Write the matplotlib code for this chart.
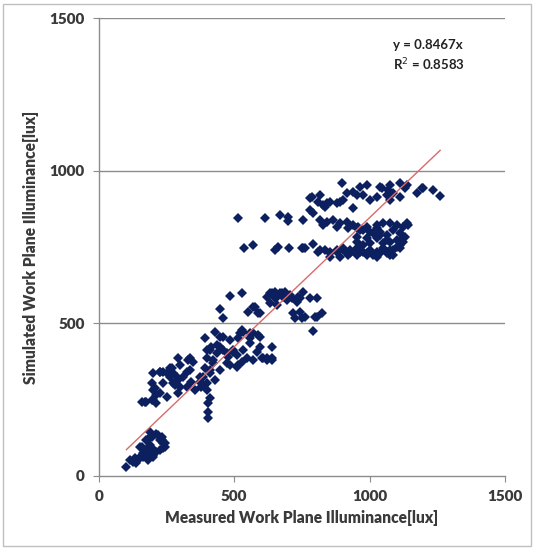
import numpy as np
import matplotlib
matplotlib.use('Agg')
import matplotlib.pyplot as plt
from matplotlib.patches import Rectangle

# values, grouped by cluster
low_x = [102, 115, 133, 151, 164, 176, 158, 188, 176, 195, 213, 225, 238, 244, 225, 201, 182, 139,
         188, 232, 127, 145, 164, 170, 151, 182, 195, 188, 219, 232, 244, 238, 213, 201]
low_y = [30, 52, 58, 63, 74, 85, 94, 102, 118, 129, 138, 118, 107, 94, 85, 69, 52, 42,
         145, 127, 47, 52, 63, 80, 96, 74, 91, 129, 134, 118, 107, 91, 80, 63]

mid_low_x = [158, 176, 201, 213, 207, 195, 201, 225, 250, 269, 262, 275, 293, 299, 293, 312, 330, 336,
             355, 385, 373, 392, 410, 422, 398, 435, 293, 336, 348, 299, 262, 225, 275, 324, 238,
             281, 201, 225, 170, 195, 213, 250, 324, 342, 373, 238, 287, 404, 404, 404, 410, 398,
             379, 398, 385, 410, 429]
mid_low_y = [243, 243, 249, 265, 287, 304, 336, 342, 336, 353, 325, 304, 314, 293, 271, 325, 380, 347,
             282, 298, 325, 353, 347, 380, 386, 402, 386, 386, 374, 364, 353, 342, 336, 342, 304,
             298, 282, 271, 243, 249, 238, 260, 293, 309, 309, 342, 325, 238, 211, 189, 255, 282,
             293, 304, 325, 336, 314]

mid_x = [392, 429, 459, 484, 515, 533, 570, 595, 558, 533, 496, 459, 435, 478, 509, 546, 570, 607,
         638, 638, 595, 472, 515, 398, 447, 472, 496, 527, 558, 589, 410, 447, 583, 601, 620,
         638, 484, 509, 527, 447, 422, 416, 521, 558, 620]
mid_y = [451, 473, 456, 445, 451, 473, 467, 456, 435, 413, 413, 413, 429, 391, 396, 386, 380, 386,
         380, 424, 424, 369, 364, 413, 424, 402, 407, 478, 467, 462, 413, 456, 407, 386, 380,
         386, 364, 358, 374, 347, 369, 424, 467, 451, 386]

upper_mid_x = [527, 447, 459, 552, 570, 589, 595, 620, 638, 657, 675, 694, 694, 712, 730, 743, 755,
               780, 804, 718, 743, 724, 749, 798, 823, 792, 632, 650, 669, 687, 706, 736, 650,
               681, 761, 804, 576, 632, 657, 484]
upper_mid_y = [599, 546, 517, 538, 555, 533, 533, 587, 599, 587, 599, 593, 577, 582, 571, 582, 604,
               582, 582, 533, 538, 517, 517, 522, 533, 476, 599, 604, 599, 604, 593, 587, 582,
               587, 522, 522, 555, 566, 560, 590]

band_750_x = [536, 570, 650, 661, 703, 749, 761, 792, 755, 817, 854, 878, 903, 927, 952, 977, 1001,
              1026, 1050, 1075, 1100, 1112, 989, 1026, 1063, 1087, 952, 915, 810, 835, 854, 878,
              903, 927, 952, 854, 890, 921, 964, 989, 1014, 1038, 1063, 1087, 1112, 1075]
band_750_y = [746, 757, 740, 751, 748, 748, 746, 759, 746, 740, 735, 740, 746, 740, 746, 735, 740,
              735, 746, 740, 751, 757, 724, 718, 730, 724, 724, 730, 735, 740, 730, 735,
              740, 730, 735, 718, 718, 724, 735, 730, 724, 730, 735, 740, 746, 724]

band_800_x = [989, 1026, 1050, 1075, 1100, 1137, 1014, 1038, 1063, 1087, 1112, 989, 1026, 1063, 1100,
              1124, 964, 952, 952, 977, 1001, 1026, 1124, 1143, 1038, 1131, 952, 977, 1001, 1050,
              1075, 1124]
band_800_y = [817, 822, 828, 828, 822, 828, 795, 800, 790, 806, 795, 779, 779, 773, 773,
              779, 806, 784, 811, 806, 800, 811, 817, 822, 790, 784, 768, 757, 762, 762,
              768, 768]

band_835_x = [515, 613, 669, 700, 700, 755, 817, 841, 866, 890, 915, 940, 958, 829, 878, 921, 780, 792]
band_835_y = [846, 846, 855, 850, 835, 839, 839, 833, 839, 828, 833, 822, 817, 822, 817, 811, 871, 861]

top_x = [897, 964, 989, 1038, 1075, 1112, 1137, 1174, 1198, 1235, 1260, 786, 817, 810, 841, 890, 915,
         952, 1001, 1026, 1063, 1087, 1112, 940, 977, 1045, 1069, 1075, 1131, 1192, 780, 835, 854,
         878, 903, 940, 829]
top_y = [959, 948, 953, 948, 953, 959, 953, 926, 943, 937, 917, 915, 921, 899, 893, 899, 926,
         921, 904, 915, 921, 926, 915, 931, 921, 943, 937, 904, 943, 943, 910, 882, 899,
         893, 904, 877, 888]

slope = 0.8467
r_squared = 0.8583

measured = np.array(low_x + mid_low_x + mid_x + upper_mid_x + band_750_x + band_800_x + band_835_x + top_x)
simulated = np.array(low_y + mid_low_y + mid_y + upper_mid_y + band_750_y + band_800_y + band_835_y + top_y)

plt.rcParams['font.family'] = ['Lato', 'DejaVu Sans']
text_col = '#3a3a3a'

fig = plt.figure(figsize=(5.34, 5.49), dpi=100)
ax = fig.add_axes([0.185, 0.133, 0.761, 0.834])

# grid lines first so points sit on top
for yv in [500, 1000, 1500]:
    ax.axhline(yv, color='#8c8c8c', lw=1.0, zorder=1)

ax.plot(measured, simulated, 'D', color='#0c1f5e', markersize=5.4, markeredgewidth=0, zorder=3)

# linear trendline through the origin, over the measured range
tx = np.array([measured.min(), measured.max()])
ax.plot(tx, slope * tx, color='#d96a6a', lw=1.0, zorder=4)

ax.set_xlim(0, 1500)
ax.set_ylim(0, 1500)
ax.set_xticks([0, 500, 1000, 1500])
ax.set_yticks([0, 500, 1000, 1500])
for s in ['top', 'right']:
    ax.spines[s].set_visible(False)
for s in ['left', 'bottom']:
    ax.spines[s].set_color('#8c8c8c')
    ax.spines[s].set_linewidth(1.0)
ax.tick_params(axis='both', direction='out', length=4, color='#8c8c8c', labelsize=11,
               labelcolor=text_col, pad=6)
for lab in ax.get_xticklabels() + ax.get_yticklabels():
    lab.set_fontweight('heavy')

ax.set_xlabel('Measured Work Plane Illuminance[lux]', fontsize=11.2, fontweight='heavy',
              color=text_col, labelpad=5)
ax.set_ylabel('Simulated Work Plane Illuminance[lux]', fontsize=11.2, fontweight='heavy',
              color=text_col, labelpad=8)

ax.text(1086, 1412, f'y = {slope}x', fontsize=9.5, fontweight='bold', va='center', color='#222222')
ax.text(1086, 1347, f'R$^2$ = {r_squared}', fontsize=9.5, fontweight='bold', va='center', color='#222222')

fig.patches.append(Rectangle((0.006, 0.005), 0.988, 0.988, transform=fig.transFigure,
                             fill=False, edgecolor='#bfbfbf', lw=1.0))

fig.savefig('out.png', dpi=100)
